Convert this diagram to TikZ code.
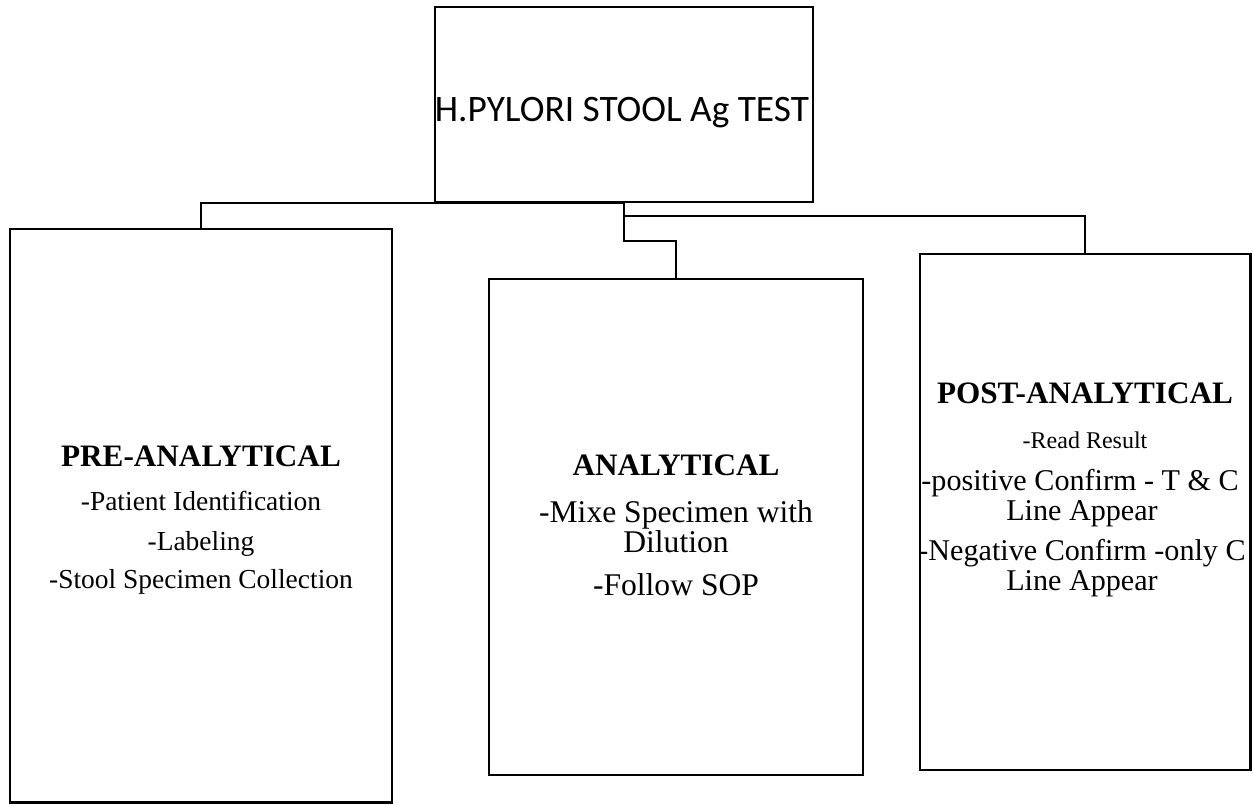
\documentclass[tikz,border=0pt]{standalone}
\usepackage{fontspec}
\setmainfont{Liberation Serif}
\newfontfamily\calib{Carlito}
\usetikzlibrary{fit}
\begin{document}
\begin{tikzpicture}[x=0.75pt,y=-0.75pt,
  box/.style={draw, line width=1.6pt, inner sep=0pt, rectangle},
  conn/.style={line width=1.6pt},
  txt/.style={anchor=base, inner sep=0pt},
  headtxt/.style={txt, font=\fontsize{23.4}{26}\selectfont\bfseries},
  pretxt/.style={txt, font=\fontsize{20.6}{23}\selectfont},
  anatxt/.style={txt, font=\fontsize{23.7}{26}\selectfont},
  posttxt/.style={txt, font=\fontsize{22.6}{25}\selectfont},
  readtxt/.style={txt, font=\fontsize{18}{20}\selectfont}]
\useasboundingbox (0,0) rectangle (1252,804);
% boxes
\node[box, fit={(435,7) (813,202)}] (top) {};
\node[box, fit={(10,229) (392,802.5)}] (pre) {};
\node[box, fit={(489,279) (863,775)}] (ana) {};
\node[box, fit={(920,254) (1250.5,770)}] (post) {};
% connectors
\draw[conn] (top.south) -| (pre.north);
\draw[conn] (top.south) -- ++(0,13) -| (post.north);
\draw[conn] (top.south) -- ++(0,38) -| (ana.north);
% texts
\node[txt, font=\calib\fontsize{28}{30}\selectfont] (toptxt) at (622,121) {H.PYLORI STOOL Ag TEST};
\node[headtxt] (preh) at (201,466) {PRE-ANALYTICAL};
\node[pretxt] (pre1) at (201,510) {-Patient Identification};
\node[pretxt] (pre2) at (201,550) {-Labeling};
\node[pretxt] (pre3) at (201,588) {-Stool Specimen Collection};
\node[headtxt] (anah) at (676,475) {ANALYTICAL};
\node[anatxt] (ana1) at (676,522) {-Mixe Specimen with};
\node[anatxt] (ana2) at (676,552) {Dilution};
\node[anatxt] (ana3) at (676,595) {-Follow SOP};
\node[headtxt] (posth) at (1085,403) {POST-ANALYTICAL};
\node[readtxt] (post1) at (1085,448) {-Read Result};
\node[posttxt] (post2) at (1080,490) {-positive Confirm - T \& C};
\node[posttxt] (post3) at (1082,520) {Line Appear};
\node[posttxt] (post4) at (1082,560) {-Negative Confirm -only C};
\node[posttxt] (post5) at (1082,590) {Line Appear};
\end{tikzpicture}
\end{document}
